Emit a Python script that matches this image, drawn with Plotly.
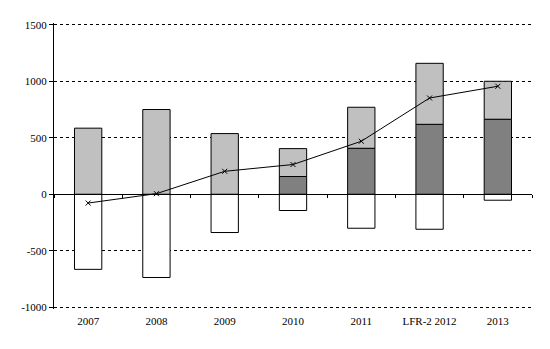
import plotly.graph_objects as go

categories = ["2007", "2008", "2009", "2010", "2011", "LFR-2 2012", "2013"]
negative = [-665, -737, -339, -144, -301, -310, -53]
dark = [0, 0, 0, 157, 407, 619, 664]
light = [585, 750, 537, 247, 363, 540, 336]
line_vals = [-78, 5, 203, 263, 469, 852, 956]
ytick_vals = [-1000, -500, 0, 500, 1000, 1500]
ytick_text = ["-1000", "-500", "0", "500", "1000", "1500"]

font = dict(family="Liberation Serif", size=11, color="black")
outline = dict(color="black", width=1)

fig = go.Figure()
fig.add_trace(go.Bar(x=categories, y=negative, marker=dict(color="white", line=outline), width=0.4, showlegend=False))
fig.add_trace(go.Bar(x=categories, y=dark, marker=dict(color="#808080", line=outline), width=0.4, showlegend=False))
fig.add_trace(go.Bar(x=categories, y=light, marker=dict(color="#C0C0C0", line=outline), width=0.4, showlegend=False))
fig.add_trace(go.Scatter(x=categories, y=line_vals, mode="lines+markers",
                         line=dict(color="black", width=1),
                         marker=dict(symbol="x-thin", size=5, color="black", line=dict(color="black", width=1)),
                         showlegend=False))
# invisible trace to carry the zero-positioned category axis
fig.add_trace(go.Scatter(x=categories, y=[0]*len(categories), xaxis="x2", mode="markers",
                         marker=dict(opacity=0), hoverinfo="skip", showlegend=False))

ymin, ymax = -1016, 1516
zero_pos = (0 - ymin) / (ymax - ymin)

fig.update_layout(
    width=550, height=349,
    margin=dict(l=54, r=18, t=23, b=40),
    paper_bgcolor="white", plot_bgcolor="white",
    barmode="relative",
    font=font,
    xaxis=dict(type="category", showline=False, ticks="", showgrid=False, zeroline=False,
               tickfont=font, ticklen=0, ticklabelstandoff=4, range=[-0.5, 6.5]),
    xaxis2=dict(type="category", overlaying="x", anchor="free", position=zero_pos, side="bottom",
                showline=True, linecolor="black", linewidth=1, ticks="outside", tickson="boundaries",
                ticklen=3, tickcolor="black", showticklabels=False, showgrid=False, zeroline=False,
                range=[-0.5, 6.5], categoryorder="array", categoryarray=categories),
    yaxis=dict(range=[ymin, ymax], tickvals=ytick_vals, ticktext=ytick_text,
               showline=True, linecolor="black", linewidth=1, ticks="outside", ticklen=4,
               tickcolor="black", showgrid=True, gridcolor="black", griddash="3px,3px", gridwidth=1,
               zeroline=False, tickfont=font),
)

fig.write_html("out.html")
